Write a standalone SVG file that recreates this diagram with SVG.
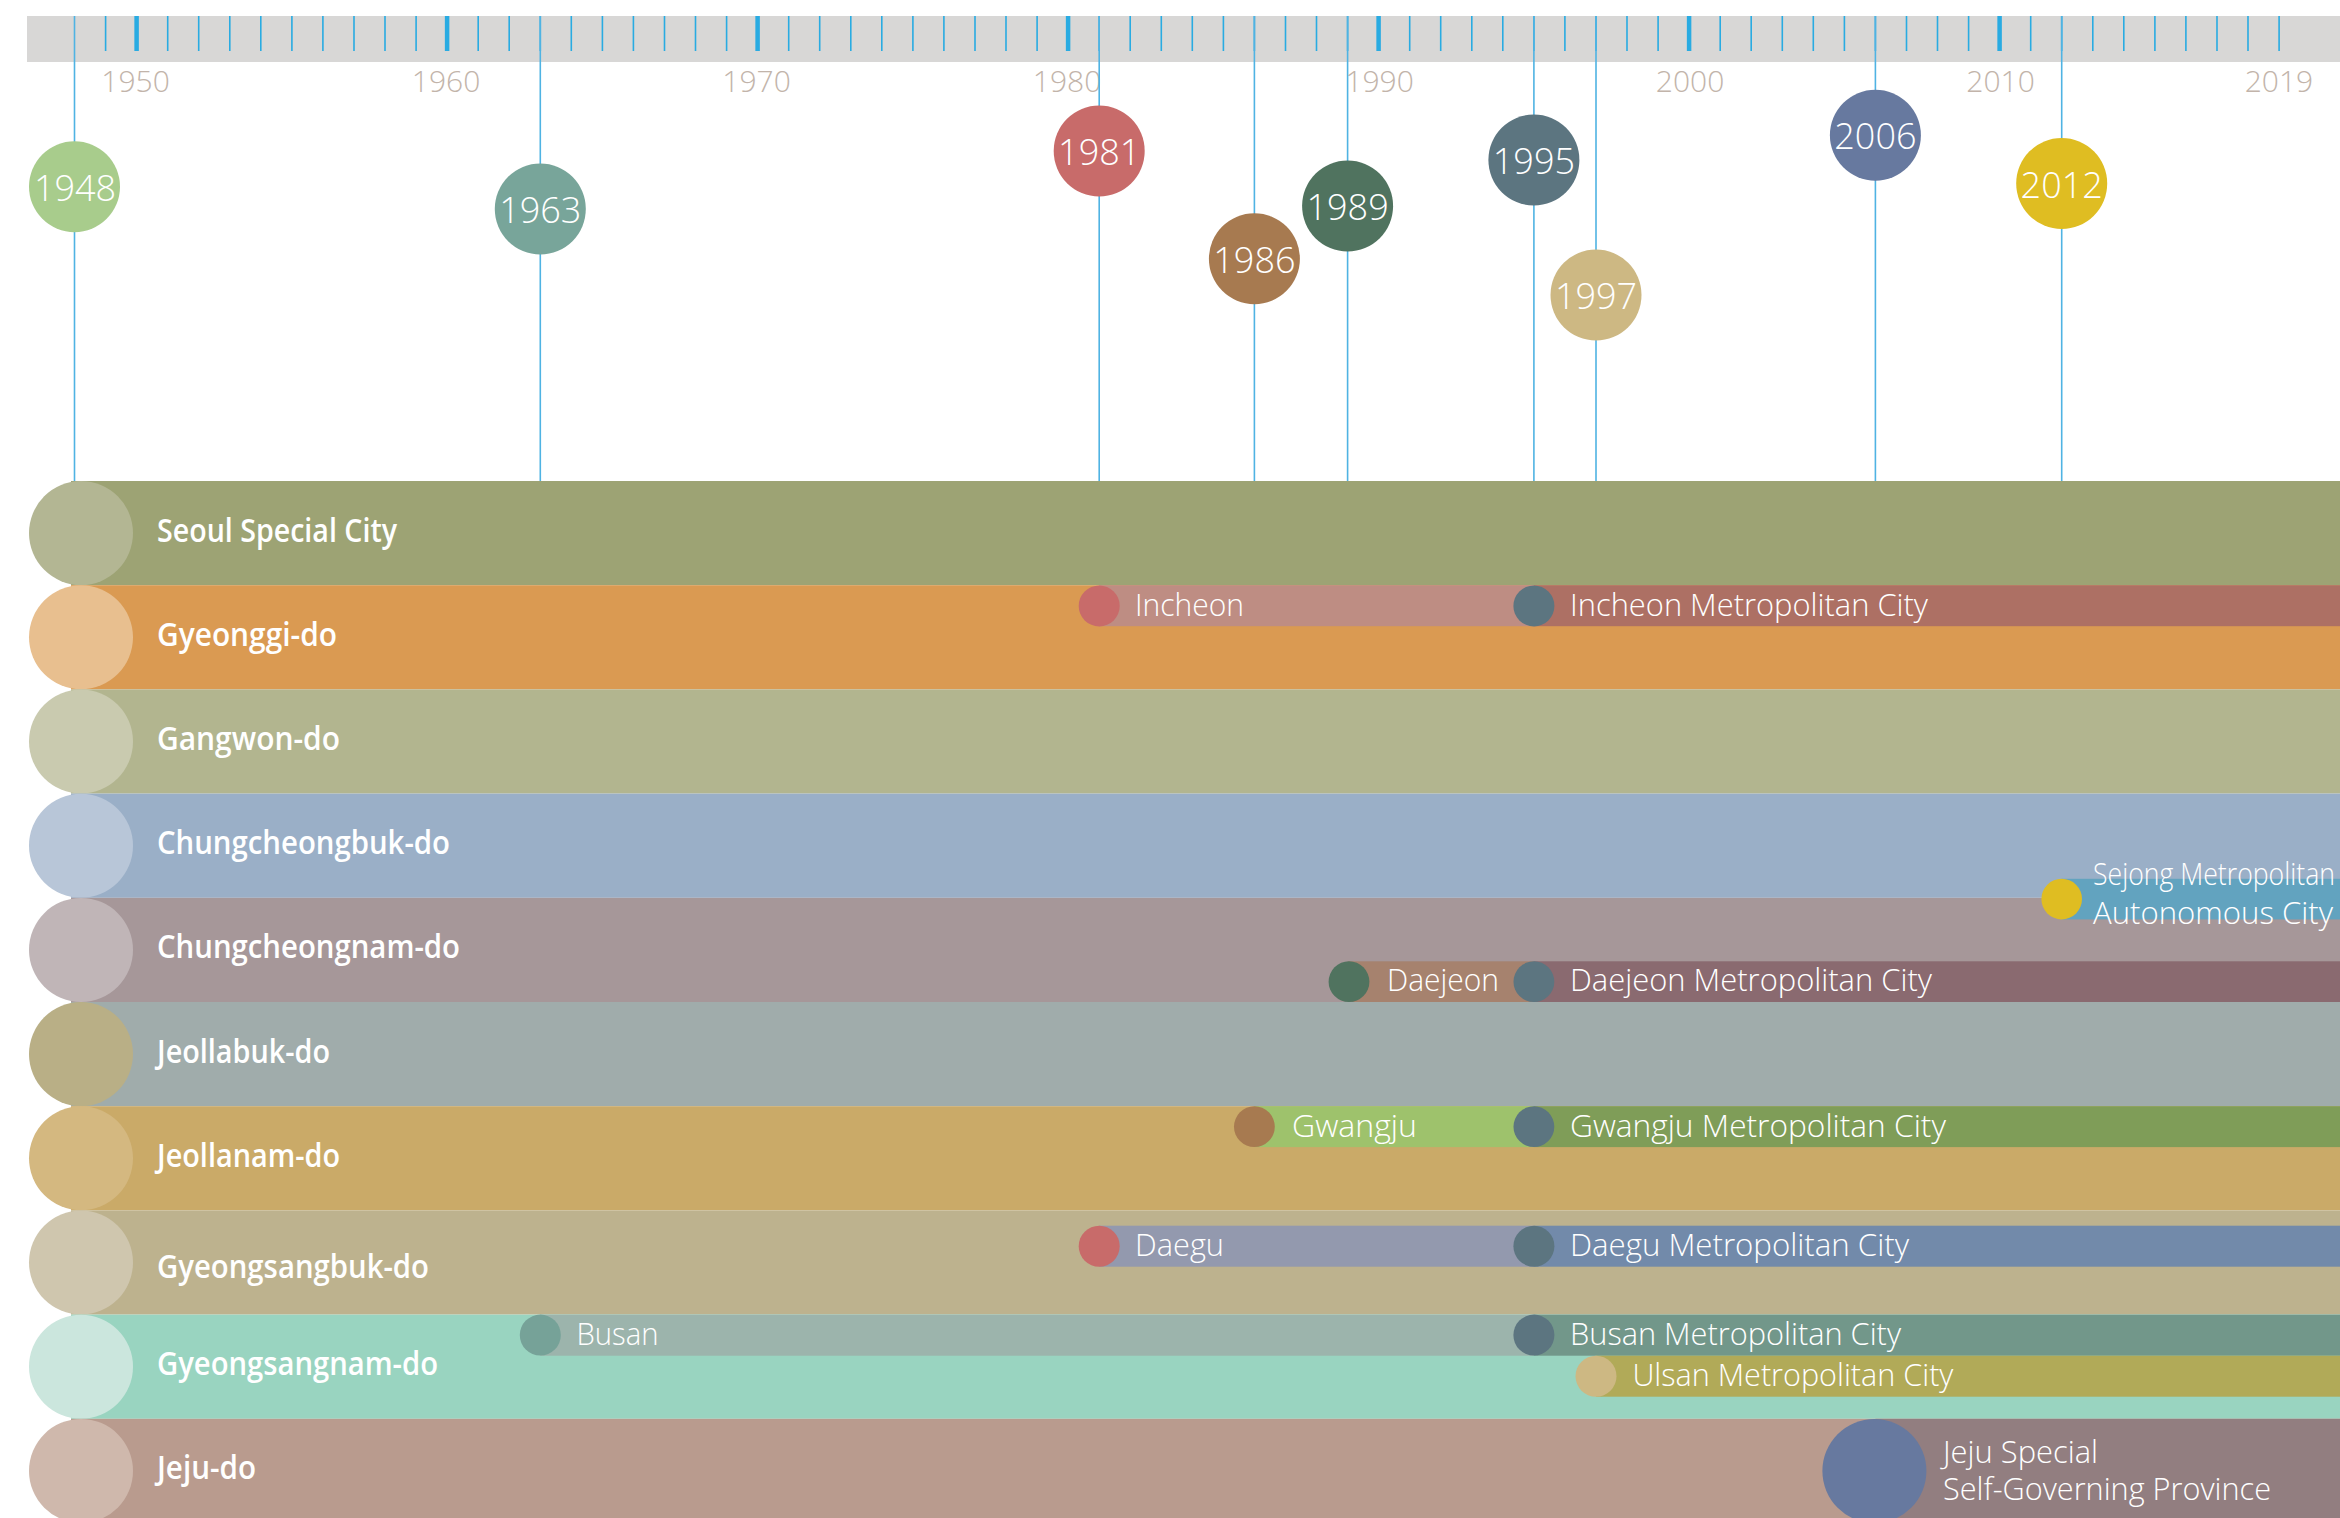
<svg xmlns="http://www.w3.org/2000/svg" width="2340" height="1518" viewBox="0 0 2340 1518">
<style>
text{font-family:"Open Sans","Liberation Sans",sans-serif}
.yr{font-weight:300;font-size:30px;fill:#c2b4aa;text-anchor:middle}
.ev{font-weight:300;font-size:36px;fill:#fff;text-anchor:middle}
.rl{font-weight:600;font-size:32px;fill:#fff}
.sl{font-weight:300;font-size:31px;fill:#fff}
.tk{stroke:#29abe2;stroke-width:1.6}
.tkd{stroke:#29abe2;stroke-width:4.5}
.vl{stroke:#4fb3e3;stroke-width:1.6;fill:none}
</style>
<rect width="2340" height="1518" fill="#fff"/>
<g id="axis">
<rect x="27" y="16" width="2313" height="46" fill="#d8d7d6"/>
<g class="tk">
<line x1="105.6" y1="16" x2="105.6" y2="51"/>
<line x1="167.7" y1="16" x2="167.7" y2="51"/><line x1="198.7" y1="16" x2="198.7" y2="51"/><line x1="229.8" y1="16" x2="229.8" y2="51"/><line x1="260.8" y1="16" x2="260.8" y2="51"/><line x1="291.9" y1="16" x2="291.9" y2="51"/><line x1="322.9" y1="16" x2="322.9" y2="51"/><line x1="354" y1="16" x2="354" y2="51"/><line x1="385" y1="16" x2="385" y2="51"/><line x1="416.1" y1="16" x2="416.1" y2="51"/>
<line x1="478.2" y1="16" x2="478.2" y2="51"/><line x1="509.2" y1="16" x2="509.2" y2="51"/><line x1="540.3" y1="16" x2="540.3" y2="51"/><line x1="571.3" y1="16" x2="571.3" y2="51"/><line x1="602.4" y1="16" x2="602.4" y2="51"/><line x1="633.4" y1="16" x2="633.4" y2="51"/><line x1="664.5" y1="16" x2="664.5" y2="51"/><line x1="695.5" y1="16" x2="695.5" y2="51"/><line x1="726.6" y1="16" x2="726.6" y2="51"/>
<line x1="788.7" y1="16" x2="788.7" y2="51"/><line x1="819.7" y1="16" x2="819.7" y2="51"/><line x1="850.8" y1="16" x2="850.8" y2="51"/><line x1="881.8" y1="16" x2="881.8" y2="51"/><line x1="912.9" y1="16" x2="912.9" y2="51"/><line x1="943.9" y1="16" x2="943.9" y2="51"/><line x1="975" y1="16" x2="975" y2="51"/><line x1="1006" y1="16" x2="1006" y2="51"/><line x1="1037.1" y1="16" x2="1037.1" y2="51"/>
<line x1="1099.2" y1="16" x2="1099.2" y2="51"/><line x1="1130.2" y1="16" x2="1130.2" y2="51"/><line x1="1161.3" y1="16" x2="1161.3" y2="51"/><line x1="1192.3" y1="16" x2="1192.3" y2="51"/><line x1="1223.4" y1="16" x2="1223.4" y2="51"/><line x1="1254.4" y1="16" x2="1254.4" y2="51"/><line x1="1285.5" y1="16" x2="1285.5" y2="51"/><line x1="1316.5" y1="16" x2="1316.5" y2="51"/><line x1="1347.6" y1="16" x2="1347.6" y2="51"/>
<line x1="1409.7" y1="16" x2="1409.7" y2="51"/><line x1="1440.7" y1="16" x2="1440.7" y2="51"/><line x1="1471.8" y1="16" x2="1471.8" y2="51"/><line x1="1502.8" y1="16" x2="1502.8" y2="51"/><line x1="1533.9" y1="16" x2="1533.9" y2="51"/><line x1="1564.9" y1="16" x2="1564.9" y2="51"/><line x1="1596" y1="16" x2="1596" y2="51"/><line x1="1627" y1="16" x2="1627" y2="51"/><line x1="1658.1" y1="16" x2="1658.1" y2="51"/>
<line x1="1720.2" y1="16" x2="1720.2" y2="51"/><line x1="1751.2" y1="16" x2="1751.2" y2="51"/><line x1="1782.3" y1="16" x2="1782.3" y2="51"/><line x1="1813.3" y1="16" x2="1813.3" y2="51"/><line x1="1844.4" y1="16" x2="1844.4" y2="51"/><line x1="1875.4" y1="16" x2="1875.4" y2="51"/><line x1="1906.5" y1="16" x2="1906.5" y2="51"/><line x1="1937.5" y1="16" x2="1937.5" y2="51"/><line x1="1968.6" y1="16" x2="1968.6" y2="51"/>
<line x1="2030.7" y1="16" x2="2030.7" y2="51"/><line x1="2061.7" y1="16" x2="2061.7" y2="51"/><line x1="2092.8" y1="16" x2="2092.8" y2="51"/><line x1="2123.8" y1="16" x2="2123.8" y2="51"/><line x1="2154.9" y1="16" x2="2154.9" y2="51"/><line x1="2185.9" y1="16" x2="2185.9" y2="51"/><line x1="2217" y1="16" x2="2217" y2="51"/><line x1="2248" y1="16" x2="2248" y2="51"/><line x1="2279.1" y1="16" x2="2279.1" y2="51"/>
</g>
<g class="tkd">
<line x1="136.6" y1="16" x2="136.6" y2="51"/><line x1="447.1" y1="16" x2="447.1" y2="51"/><line x1="757.6" y1="16" x2="757.6" y2="51"/><line x1="1068.1" y1="16" x2="1068.1" y2="51"/><line x1="1378.6" y1="16" x2="1378.6" y2="51"/><line x1="1689.1" y1="16" x2="1689.1" y2="51"/><line x1="1999.6" y1="16" x2="1999.6" y2="51"/>
</g>
<text class="yr" x="135.6" y="92">1950</text>
<text class="yr" x="446.1" y="92">1960</text>
<text class="yr" x="756.6" y="92">1970</text>
<text class="yr" x="1067.1" y="92">1980</text>
<text class="yr" x="1379.6" y="92">1990</text>
<text class="yr" x="1690.1" y="92">2000</text>
<text class="yr" x="2000.6" y="92">2010</text>
<text class="yr" x="2279" y="92">2019</text>
</g>
<g id="connectors">
<line class="vl" x1="74.5" y1="16" x2="74.5" y2="481"/>
<line class="vl" x1="540.3" y1="16" x2="540.3" y2="481"/>
<line class="vl" x1="1099.2" y1="16" x2="1099.2" y2="481"/>
<line class="vl" x1="1254.4" y1="16" x2="1254.4" y2="481"/>
<line class="vl" x1="1347.6" y1="16" x2="1347.6" y2="481"/>
<line class="vl" x1="1533.9" y1="16" x2="1533.9" y2="481"/>
<line class="vl" x1="1596" y1="16" x2="1596" y2="481"/>
<line class="vl" x1="1875.4" y1="16" x2="1875.4" y2="481"/>
<line class="vl" x1="2061.7" y1="16" x2="2061.7" y2="481"/>
</g>
<g id="e1948"><circle cx="74.5" cy="186.7" r="45.5" fill="#a8cc8c"/><text class="ev" x="75" y="201">1948</text></g>
<g id="e1963"><circle cx="540.3" cy="209" r="45.5" fill="#78a59a"/><text class="ev" x="540.3" y="223">1963</text></g>
<g id="e1981"><circle cx="1099.2" cy="151" r="45.5" fill="#c86b6a"/><text class="ev" x="1099.2" y="165">1981</text></g>
<g id="e1986"><circle cx="1254.4" cy="258.7" r="45.5" fill="#a77a50"/><text class="ev" x="1254.4" y="272.7">1986</text></g>
<g id="e1989"><circle cx="1347.6" cy="206" r="45.5" fill="#50735f"/><text class="ev" x="1347.6" y="220">1989</text></g>
<g id="e1995"><circle cx="1533.9" cy="160" r="45.5" fill="#5c7580"/><text class="ev" x="1533.9" y="174">1995</text></g>
<g id="e1997"><circle cx="1596" cy="295" r="45.5" fill="#cdb883"/><text class="ev" x="1596" y="309">1997</text></g>
<g id="e2006"><circle cx="1875.4" cy="135.2" r="45.5" fill="#67799f"/><text class="ev" x="1875.4" y="149.2">2006</text></g>
<g id="e2012"><circle cx="2061.7" cy="183.5" r="45.5" fill="#dfbd22"/><text class="ev" x="2061.7" y="197.5">2012</text></g>

<g id="seoul"><rect x="71" y="481" width="2269" height="104.2" fill="#9da374"/><circle cx="81" cy="533.1" r="52" fill="#b3b693"/><text class="rl" x="157" y="541.6" textLength="240" lengthAdjust="spacingAndGlyphs">Seoul Special City</text></g>
<g id="gyeonggi"><rect x="71" y="585.2" width="2269" height="104.2" fill="#da9a52"/><circle cx="81" cy="637.3" r="52" fill="#e8bf8f"/><text class="rl" x="157" y="645.8" textLength="180" lengthAdjust="spacingAndGlyphs">Gyeonggi-do</text></g>
<g id="gangwon"><rect x="71" y="689.4" width="2269" height="104.2" fill="#b2b58f"/><circle cx="81" cy="741.5" r="52" fill="#c9caaf"/><text class="rl" x="157" y="750" textLength="183" lengthAdjust="spacingAndGlyphs">Gangwon-do</text></g>
<g id="chungbuk"><rect x="71" y="793.6" width="2269" height="104.2" fill="#9aafc7"/><circle cx="81" cy="845.7" r="52" fill="#b8c6d8"/><text class="rl" x="157" y="854.2" textLength="293" lengthAdjust="spacingAndGlyphs">Chungcheongbuk-do</text></g>
<g id="chungnam"><rect x="71" y="897.8" width="2269" height="104.2" fill="#a69799"/><circle cx="81" cy="949.9" r="52" fill="#c0b5b7"/><text class="rl" x="157" y="958.4" textLength="303" lengthAdjust="spacingAndGlyphs">Chungcheongnam-do</text></g>
<g id="jeollabuk"><rect x="71" y="1002" width="2269" height="104.2" fill="#a0acab"/><circle cx="81" cy="1054.1" r="52" fill="#b9af86"/><text class="rl" x="157" y="1062.6" textLength="173" lengthAdjust="spacingAndGlyphs">Jeollabuk-do</text></g>
<g id="jeollanam"><rect x="71" y="1106.2" width="2269" height="104.2" fill="#caaa68"/><circle cx="81" cy="1158.3" r="52" fill="#d4b880"/><text class="rl" x="157" y="1166.8" textLength="183" lengthAdjust="spacingAndGlyphs">Jeollanam-do</text></g>
<g id="gyeongbuk"><rect x="71" y="1210.4" width="2269" height="104.2" fill="#bdb28e"/><circle cx="81" cy="1262.5" r="52" fill="#cfc6ae"/><text class="rl" x="157" y="1278.3" textLength="272" lengthAdjust="spacingAndGlyphs">Gyeongsangbuk-do</text></g>
<g id="gyeongnam"><rect x="71" y="1314.6" width="2269" height="104.2" fill="#99d4c0"/><circle cx="81" cy="1366.7" r="52" fill="#cbe6dd"/><text class="rl" x="157" y="1375.2" textLength="281" lengthAdjust="spacingAndGlyphs">Gyeongsangnam-do</text></g>
<g id="jeju"><rect x="71" y="1418.8" width="2269" height="104.2" fill="#b99b8e"/><circle cx="81" cy="1470.9" r="52" fill="#cfb8ac"/><text class="rl" x="157" y="1479.4" textLength="99" lengthAdjust="spacingAndGlyphs">Jeju-do</text></g>

<g id="incheon"><rect x="1099.2" y="585.2" width="434.7" height="41" fill="#be8d83"/><rect x="1533.9" y="585.2" width="806.1" height="41" fill="#ad7064"/><circle cx="1099.2" cy="605.9" r="20.5" fill="#c86b6a"/><circle cx="1533.9" cy="605.9" r="20.5" fill="#5c7580"/><text class="sl" x="1135" y="616" textLength="109" lengthAdjust="spacingAndGlyphs">Incheon</text><text class="sl" x="1570" y="616" textLength="358" lengthAdjust="spacingAndGlyphs">Incheon Metropolitan City</text></g>
<g id="sejong"><rect x="2061.7" y="878.8" width="278.3" height="40.6" fill="#62a3bf"/><circle cx="2061.7" cy="899.1" r="20.3" fill="#dfbd22"/><text class="sl" x="2093" y="885" textLength="242" lengthAdjust="spacingAndGlyphs">Sejong Metropolitan</text><text class="sl" x="2093" y="924" textLength="240" lengthAdjust="spacingAndGlyphs">Autonomous City</text></g>
<g id="daejeon"><rect x="1347.6" y="961.3" width="186.3" height="40.7" fill="#a6826e"/><rect x="1533.9" y="961.3" width="806.1" height="40.7" fill="#8a6a70"/><circle cx="1349" cy="981.7" r="20.4" fill="#50735f"/><circle cx="1533.9" cy="981.7" r="20.4" fill="#5c7580"/><text class="sl" x="1387" y="991" textLength="112" lengthAdjust="spacingAndGlyphs">Daejeon</text><text class="sl" x="1570" y="991" textLength="362" lengthAdjust="spacingAndGlyphs">Daejeon Metropolitan City</text></g>
<g id="gwangju"><rect x="1254.4" y="1106.2" width="279.5" height="40.9" fill="#9ec26c"/><rect x="1533.9" y="1106.2" width="806.1" height="40.9" fill="#7f9d58"/><circle cx="1254.4" cy="1126.7" r="20.4" fill="#a77a50"/><circle cx="1533.9" cy="1126.7" r="20.4" fill="#5c7580"/><text class="sl" x="1292" y="1137" textLength="125" lengthAdjust="spacingAndGlyphs">Gwangju</text><text class="sl" x="1570" y="1137" textLength="376" lengthAdjust="spacingAndGlyphs">Gwangju Metropolitan City</text></g>
<g id="daegu"><rect x="1099.2" y="1225.7" width="434.7" height="41" fill="#9399ae"/><rect x="1533.9" y="1225.7" width="806.1" height="41" fill="#728aaa"/><circle cx="1099.2" cy="1246.2" r="20.5" fill="#c86b6a"/><circle cx="1533.9" cy="1246.2" r="20.5" fill="#5c7580"/><text class="sl" x="1135" y="1256" textLength="89" lengthAdjust="spacingAndGlyphs">Daegu</text><text class="sl" x="1570" y="1256" textLength="339" lengthAdjust="spacingAndGlyphs">Daegu Metropolitan City</text></g>
<g id="busan"><rect x="540.3" y="1314.6" width="993.6" height="41.1" fill="#9cb4ac"/><rect x="1533.9" y="1314.6" width="806.1" height="41.1" fill="#72978a"/><circle cx="540.3" cy="1335.1" r="20.5" fill="#76a298"/><circle cx="1533.9" cy="1335.1" r="20.5" fill="#5c7580"/><text class="sl" x="576.5" y="1345" textLength="82" lengthAdjust="spacingAndGlyphs">Busan</text><text class="sl" x="1570" y="1345" textLength="331" lengthAdjust="spacingAndGlyphs">Busan Metropolitan City</text></g>
<g id="ulsan"><rect x="1596" y="1355.7" width="744" height="41" fill="#b1aa58"/><circle cx="1596" cy="1376.2" r="20.5" fill="#cdb883"/><text class="sl" x="1632.4" y="1386" textLength="321" lengthAdjust="spacingAndGlyphs">Ulsan Metropolitan City</text></g>
<g id="jeju-special"><rect x="1875.4" y="1418.8" width="464.6" height="104.2" fill="#927e80"/><circle cx="1874.4" cy="1471" r="52" fill="#67799f"/><text class="sl" x="1943" y="1463.3" textLength="155" lengthAdjust="spacingAndGlyphs">Jeju Special</text><text class="sl" x="1943" y="1500" textLength="328" lengthAdjust="spacingAndGlyphs">Self-Governing Province</text></g>
</svg>
